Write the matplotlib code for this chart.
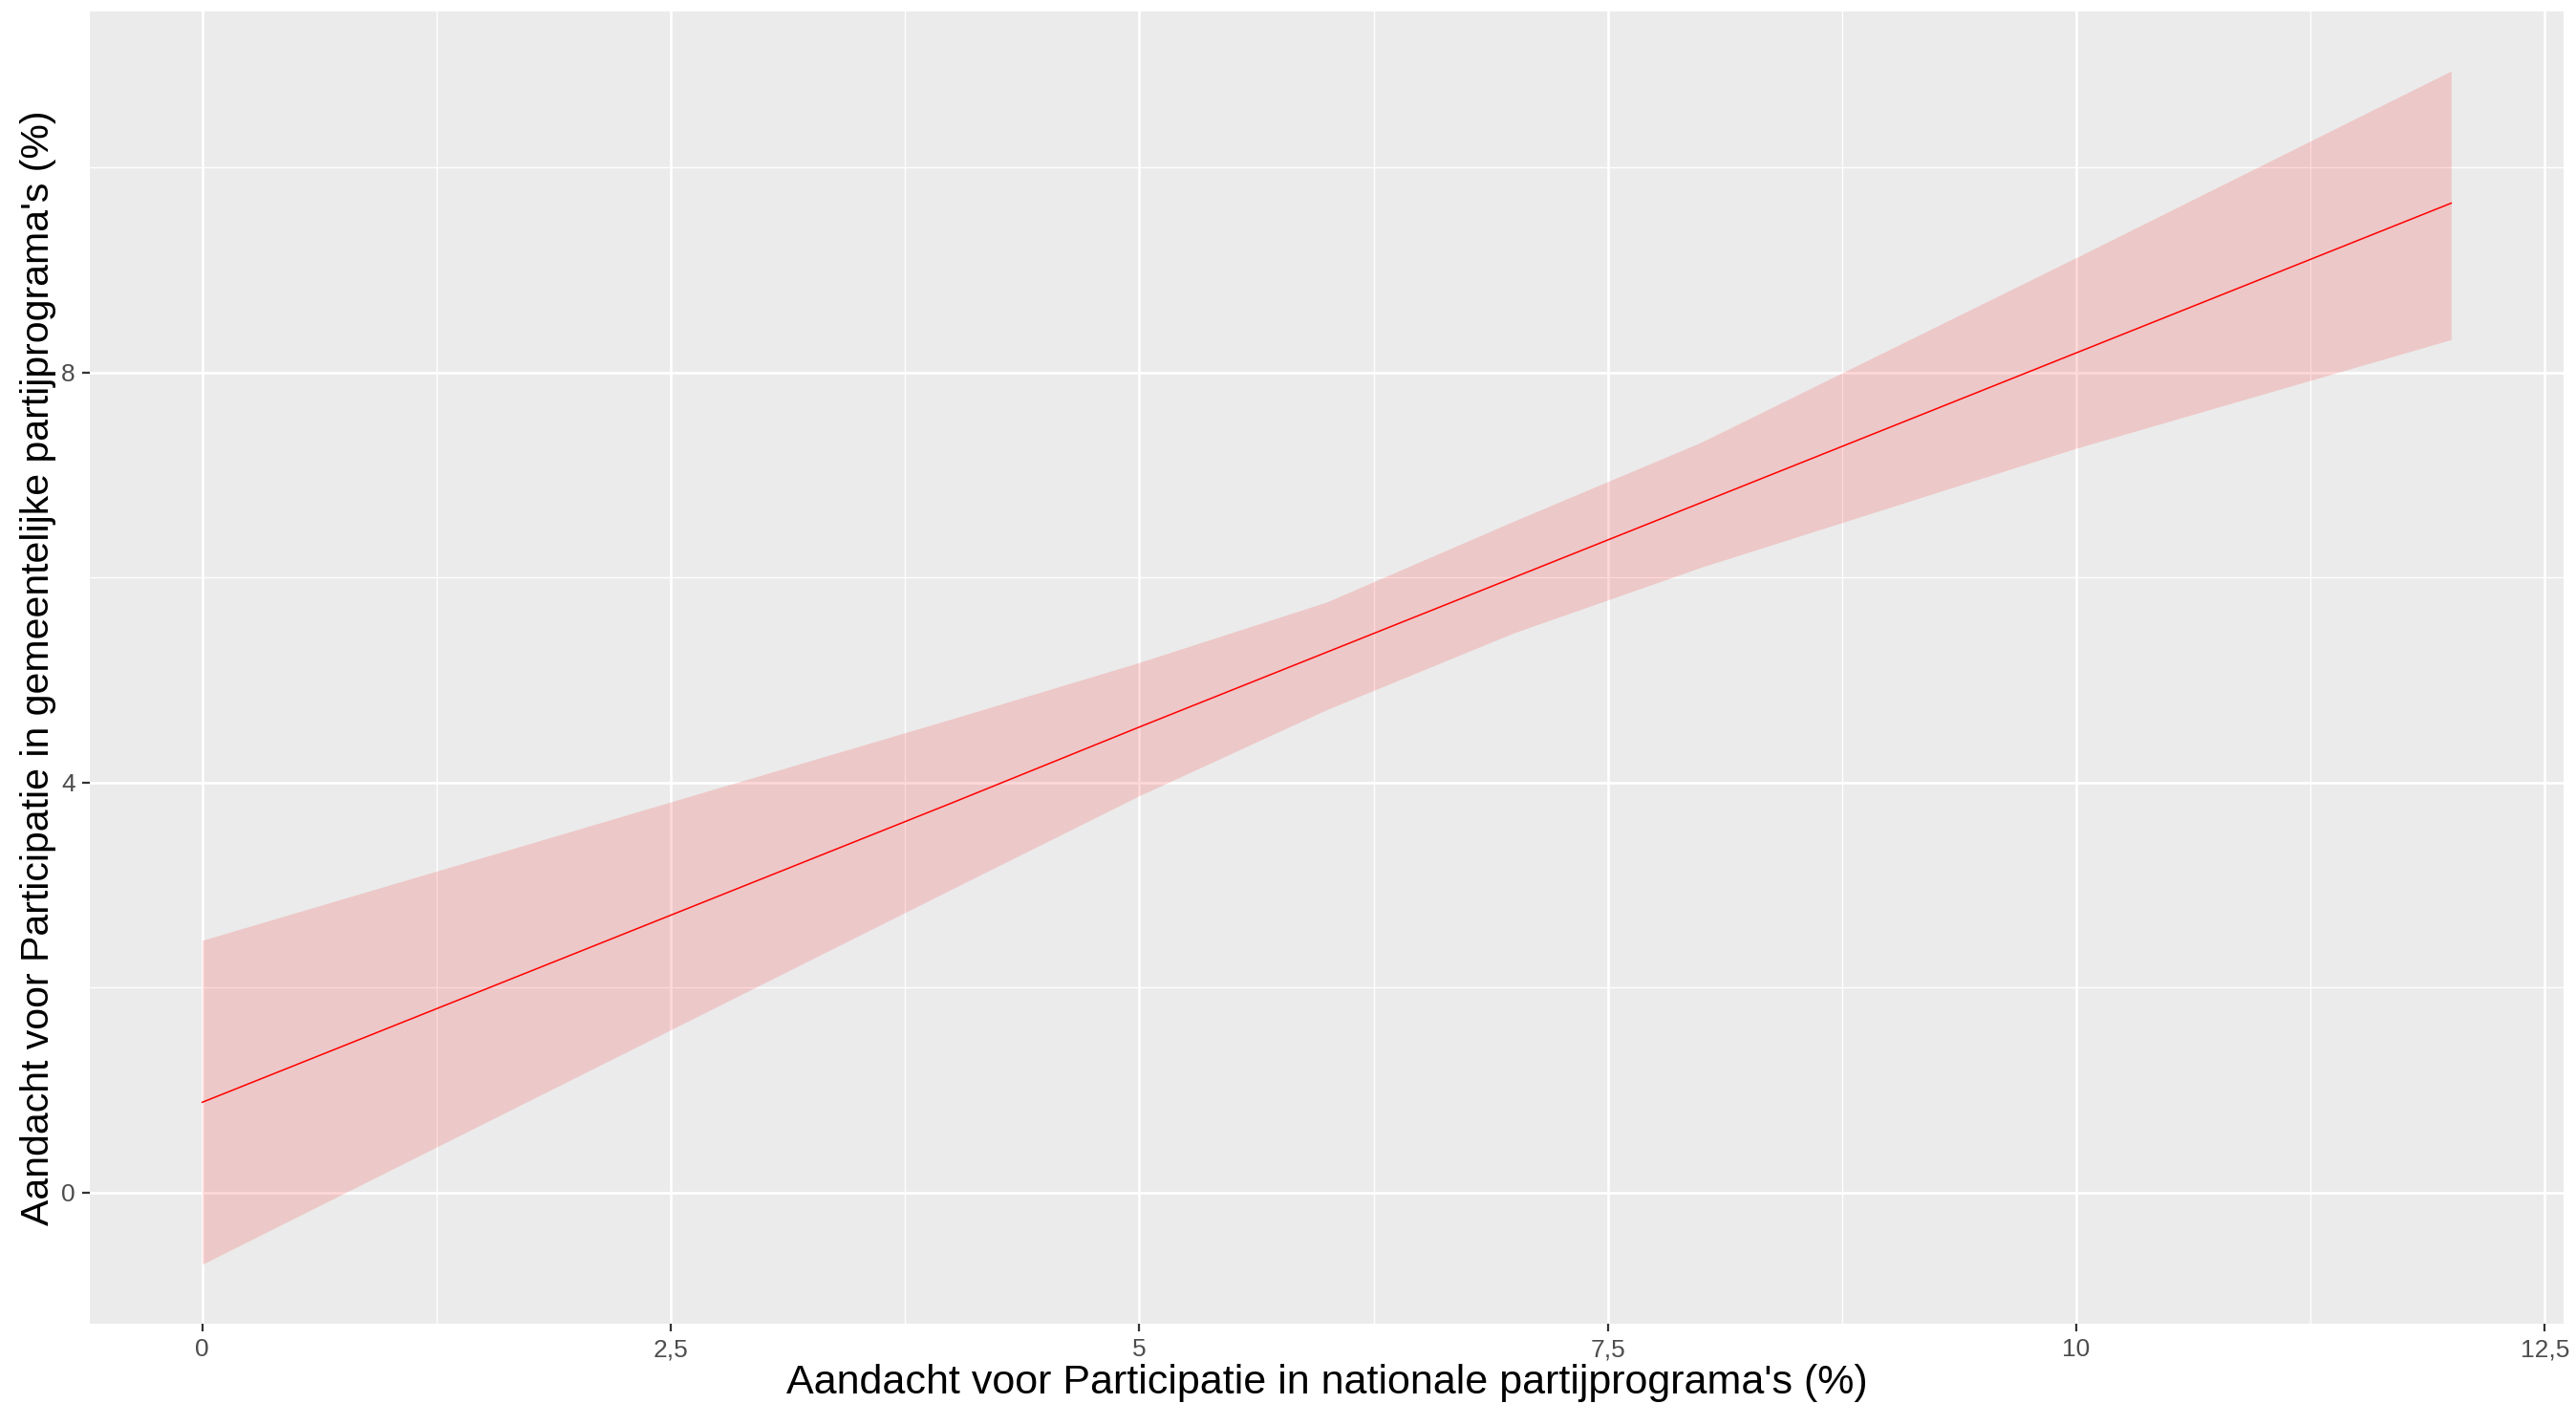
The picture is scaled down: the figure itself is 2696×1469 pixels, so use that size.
import matplotlib
matplotlib.use("Agg")
import matplotlib.pyplot as plt
from matplotlib.ticker import FixedLocator, FuncFormatter

# Voorspelde waarden (lineair model) met betrouwbaarheidsinterval
nationaal = [0, 2, 4, 5, 6, 7, 8, 10, 12]
voorspeld = [0.88, 2.34, 3.80, 4.54, 5.27, 6.00, 6.73, 8.19, 9.65]
ci_boven = [2.46, 3.54, 4.62, 5.17, 5.76, 6.55, 7.32, 9.12, 10.94]
ci_onder = [-0.70, 1.13, 2.96, 3.87, 4.71, 5.46, 6.10, 7.26, 8.32]

x_major = [0, 2.5, 5, 7.5, 10, 12.5]
x_minor = [1.25, 3.75, 6.25, 8.75, 11.25]
y_major = [0, 4, 8]
y_minor = [2, 6, 10]

fig = plt.figure(figsize=(26.96, 14.69), dpi=100)
fig.patch.set_facecolor("white")
ax = fig.add_axes([94 / 2696, 84 / 1469, (2683 - 94) / 2696, (1385 - 12) / 1469])
ax.set_facecolor("#EBEBEB")

ax.fill_between(nationaal, ci_onder, ci_boven, color="red", alpha=0.15, linewidth=0, zorder=2)
ax.plot(nationaal, voorspeld, color="red", linewidth=1.1, zorder=3)

ax.set_xlim(-0.6, 12.6)
ax.set_ylim(-1.28, 11.52)

ax.xaxis.set_major_locator(FixedLocator(x_major))
ax.xaxis.set_minor_locator(FixedLocator(x_minor))
ax.yaxis.set_major_locator(FixedLocator(y_major))
ax.yaxis.set_minor_locator(FixedLocator(y_minor))

# komma als decimaalteken
komma = FuncFormatter(lambda v, p: (f"{v:g}").replace(".", ","))
ax.xaxis.set_major_formatter(komma)
ax.yaxis.set_major_formatter(komma)

ax.grid(which="major", color="white", linewidth=1.9, zorder=1)
ax.grid(which="minor", color="white", linewidth=0.95, zorder=1)
ax.set_axisbelow(True)

for s in ax.spines.values():
    s.set_visible(False)

ax.tick_params(which="major", length=6, width=1.6, color="#333333",
               labelcolor="#4D4D4D", labelsize=19, pad=5)
ax.tick_params(which="minor", length=0)
for lab in ax.get_xticklabels() + ax.get_yticklabels():
    lab.set_fontfamily("Liberation Sans")

ax.set_xlabel("Aandacht voor Participatie in nationale partijprograma's (%)",
              fontsize=31, family="Liberation Sans", color="black", labelpad=2)
ax.set_ylabel("Aandacht voor Participatie in gemeentelijke partijprograma's (%)",
              fontsize=29.5, family="Liberation Sans", color="black", labelpad=4)

fig.savefig("out.png", dpi=100)
